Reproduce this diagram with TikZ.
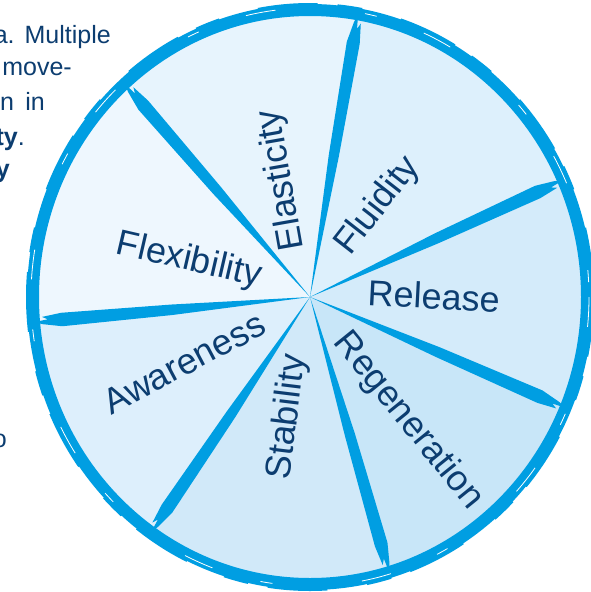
\documentclass[tikz,border=0pt]{standalone}
\usepackage{fontspec}
\setmainfont{Liberation Sans}
\definecolor{rim}{RGB}{0,158,226}
\definecolor{ink}{RGB}{12,61,112}
\definecolor{cFlex}{RGB}{238,247,254}
\definecolor{cElas}{RGB}{231,244,253}
\definecolor{cFlui}{RGB}{221,240,252}
\definecolor{cRele}{RGB}{212,235,250}
\definecolor{cRege}{RGB}{200,230,248}
\definecolor{cStab}{RGB}{209,233,249}
\definecolor{cAwar}{RGB}{221,239,252}
\newcommand\mysector[3]{\fill[#3] (310,297) -- plot[domain=#1:#2, samples=40] ({310+277*cos(\x)},{297+287*sin(\x)}) -- cycle;}
\newcommand\mypt[2]{({310+#2*277*cos(#1)},{297+#2*287*sin(#1)})}
\newcommand\myspoke[1]{\fill[rim] (310,297) -- \mypt{#1-2.2}{0.5} -- \mypt{#1-1.5}{0.90} -- \mypt{#1-0.6}{0.97} -- \mypt{#1}{1.0} -- \mypt{#1+0.3}{0.95} -- \mypt{#1+0.9}{0.97} -- \mypt{#1+1.5}{0.90} -- \mypt{#1+2.0}{0.5} -- cycle;}
\tikzset{
  lbl/.style={text=ink, font=\fontsize{36}{42}\selectfont, inner sep=0pt},
  side/.style={text=ink, font=\fontsize{25}{30}\selectfont, inner sep=0pt, anchor=base east}
}
\begin{document}
\begin{tikzpicture}[x=1pt,y=-1pt]
\useasboundingbox (0,0) rectangle (591,592);
\clip (0,0) rectangle (591,592);
\fill[white] (0,0) rectangle (591,592);
% left text fragments
\node[side] (t1) at (111,43) {a.\hspace{0.4em}Multiple};
\node[side] (t2) at (72,75) {move-};
\node[side] (t3) at (45,110) {n\hspace{0.45em}in};
\node[side] (t4) at (25,145) {\textbf{ty}.};
\node[side] (t5) at (10,177) {\textbf{y}};
\node[side] (t6) at (7,447) {o};
% sectors
\coordinate (c) at (310,297);
\mysector{228}{280}{cElas}
\mysector{280}{336}{cFlui}
\mysector{336}{382.7}{cRele}
\mysector{382.7}{433.4}{cRege}
\mysector{433.4}{485}{cStab}
\mysector{485}{535}{cAwar}
\mysector{535}{588}{cFlex}
% spokes
\myspoke{228}
\myspoke{280}
\myspoke{336}
\myspoke{382.7}
\myspoke{433.4}
\myspoke{485}
\myspoke{535}
% rim
\draw[rim, line width=12pt] (c) ellipse [x radius=277, y radius=287];
\draw[rim, line width=2pt, dash pattern=on 60pt off 20pt on 25pt off 40pt] (c) ellipse [x radius=283, y radius=293];
\draw[white, line width=0.8pt, dash pattern=on 30pt off 90pt on 12pt off 50pt] (c) ellipse [x radius=279, y radius=289];
% labels
\node[lbl, rotate=-3] (rel) at (434,296) {Release};
\node[lbl, rotate=-13] (flex) at (189,261) {Flexibility};
\node[lbl, rotate=100] (elas) at (282,180) {Elasticity};
\node[lbl, rotate=52] (flui) at (378,206) {Fluidity};
\node[lbl, rotate=-51] (rege) at (408,421) {Regeneration};
\node[lbl, rotate=83] (stab) at (288,417) {Stability};
\node[lbl, rotate=28] (awar) at (184,363) {Awareness};
\end{tikzpicture}
\end{document}
